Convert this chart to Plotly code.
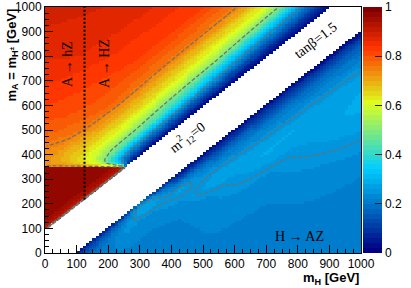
import numpy as np
import plotly.graph_objects as go

# ---------------- data ----------------
m_Z = 91.19          # kinematic offset of the white band (GeV)
m_tt = 350           # A -> tt threshold: below it the upper region is ~1
m_h125 = 125         # dotted vertical line (GeV)
bin_width = 10
axis_max = 1000

# upper region (mA > mH + mZ, mA above the tt threshold): value vs (mA, d = mA - mH - mZ)
upper_mA_nodes = [355, 365, 380, 420, 500, 600, 800, 1000]
upper_d_nodes = [0, 20, 50, 100, 150, 200, 300, 400, 600, 950]
upper_values = [
    [0.00, 0.45, 0.57, 0.65, 0.70, 0.72, 0.74, 0.74, 0.74, 0.74],
    [0.00, 0.22, 0.40, 0.57, 0.65, 0.70, 0.74, 0.74, 0.74, 0.74],
    [0.00, 0.10, 0.26, 0.50, 0.61, 0.67, 0.74, 0.745, 0.745, 0.745],
    [0.00, 0.08, 0.21, 0.46, 0.57, 0.66, 0.735, 0.76, 0.76, 0.76],
    [0.00, 0.07, 0.19, 0.44, 0.57, 0.66, 0.765, 0.79, 0.79, 0.79],
    [0.00, 0.06, 0.16, 0.40, 0.54, 0.65, 0.78, 0.81, 0.83, 0.83],
    [0.00, 0.05, 0.13, 0.30, 0.50, 0.61, 0.76, 0.82, 0.86, 0.87],
    [0.00, 0.05, 0.12, 0.25, 0.44, 0.59, 0.75, 0.82, 0.87, 0.90],
]

# upper region below the tt threshold: value vs d
below_tt_d_nodes = [0, 15, 40, 300]
below_tt_values = [0.88, 0.93, 0.96, 0.97]

# lower region (mH > mA + mZ): value vs (mH, d2 = mH - mA - mZ)
lower_mH_nodes = [100, 200, 260, 300, 335, 430, 550, 700, 1000]
lower_d_nodes = [0, 10, 25, 50, 75, 100, 150, 200, 300, 450, 600, 910]
lower_values = [
    [0.00, 0.06, 0.12, 0.16, 0.18, 0.19, 0.19, 0.19, 0.19, 0.19, 0.19, 0.19],
    [0.00, 0.08, 0.14, 0.19, 0.21, 0.21, 0.21, 0.21, 0.21, 0.21, 0.21, 0.21],
    [0.00, 0.12, 0.20, 0.24, 0.245, 0.24, 0.22, 0.21, 0.21, 0.21, 0.21, 0.21],
    [0.00, 0.25, 0.27, 0.265, 0.24, 0.23, 0.22, 0.21, 0.21, 0.21, 0.21, 0.21],
    [0.00, 0.14, 0.26, 0.28, 0.245, 0.23, 0.22, 0.21, 0.21, 0.21, 0.21, 0.21],
    [0.00, 0.05, 0.10, 0.21, 0.265, 0.255, 0.23, 0.22, 0.21, 0.21, 0.21, 0.21],
    [0.00, 0.04, 0.08, 0.15, 0.20, 0.24, 0.28, 0.245, 0.23, 0.21, 0.21, 0.21],
    [0.00, 0.04, 0.08, 0.14, 0.19, 0.22, 0.26, 0.285, 0.235, 0.215, 0.205, 0.205],
    [0.00, 0.03, 0.07, 0.13, 0.17, 0.20, 0.24, 0.27, 0.29, 0.25, 0.22, 0.20],
]

contour_levels = [0.25, 0.50, 0.75]
x_ticks = list(range(0, 1001, 100))
y_ticks = list(range(0, 1001, 100))
cb_ticks = [0, 0.2, 0.4, 0.6, 0.8, 1.0]
cb_ticktext = ["0", "0.2", "0.4", "0.6", "0.8", "1"]

# ROOT-style rainbow palette
palette_stops = [0.00, 0.34, 0.61, 0.84, 1.00]
palette_red = [0.00, 0.00, 0.87, 1.00, 0.51]
palette_green = [0.00, 0.81, 1.00, 0.20, 0.00]
palette_blue = [0.51, 1.00, 0.12, 0.00, 0.00]
n_colors = 50

# ---------------- build the binned map ----------------
def lookup(row_nodes, col_nodes, values, r, c):
    vals = np.asarray(values, dtype=float)
    per_row = [np.interp(c, col_nodes, vals[i]) for i in range(len(row_nodes))]
    return float(np.interp(r, row_nodes, per_row))

centers = np.arange(bin_width / 2, axis_max, bin_width)
z = np.full((len(centers), len(centers)), np.nan)
for iy, ma in enumerate(centers):
    for ix, mh in enumerate(centers):
        if ma > mh + m_Z:
            d = ma - mh - m_Z
            if ma < m_tt:
                z[iy, ix] = np.interp(d, below_tt_d_nodes, below_tt_values)
            else:
                z[iy, ix] = lookup(upper_mA_nodes, upper_d_nodes, upper_values, ma, d)
        elif mh > ma + m_Z:
            d2 = mh - ma - m_Z
            z[iy, ix] = lookup(lower_mH_nodes, lower_d_nodes, lower_values, mh, d2)
z_lines = np.nan_to_num(z, nan=0.0)

def pal(t):
    r = np.interp(t, palette_stops, palette_red)
    g = np.interp(t, palette_stops, palette_green)
    b = np.interp(t, palette_stops, palette_blue)
    return "rgb(%d,%d,%d)" % (round(r * 255), round(g * 255), round(b * 255))

colorscale = []
for i in range(n_colors):
    c = pal(i / (n_colors - 1))
    colorscale.append([i / n_colors, c])
    colorscale.append([(i + 1) / n_colors, c])

# ---------------- figure ----------------
W, H = 411, 288
ml, mr, mt, mb = 45, 50, 7, 35
plot_w = W - ml - mr
plot_h = H - mt - mb
cb_x0 = (363 - ml) / plot_w
cb_thick = 19
cb_x1 = cb_x0 + cb_thick / plot_w

fig = go.Figure()
fig.add_trace(go.Heatmap(
    x=centers, y=centers, z=z, zmin=0, zmax=1, colorscale=colorscale,
    hoverinfo="skip",
    colorbar=dict(x=cb_x0, xanchor="left", xpad=0, y=0.5, yanchor="middle", ypad=0,
                  len=1, lenmode="fraction", thickness=cb_thick, outlinewidth=0,
                  tickvals=cb_ticks, ticktext=cb_ticktext, ticks="inside", ticklen=7,
                  tickcolor="#222", tickwidth=1,
                  tickfont=dict(family="Liberation Sans, Arial", size=12, color="black")),
))
fig.add_trace(go.Contour(
    x=centers, y=centers, z=z_lines, showscale=False, hoverinfo="skip",
    contours=dict(start=contour_levels[0], end=contour_levels[-1],
                  size=contour_levels[1] - contour_levels[0], coloring="none"),
    line=dict(color="#6e6e6e", width=1.2, dash="4px,2px", smoothing=0.6),
))
fig.add_trace(go.Scatter(
    x=[m_h125, m_h125], y=[m_h125 + m_Z, axis_max], mode="lines",
    line=dict(color="black", width=2, dash="2px,2px"), hoverinfo="skip", showlegend=False,
))

for lv in contour_levels:
    fig.add_shape(type="line", xref="paper", yref="y", x0=cb_x0, x1=cb_x1,
                  y0=lv * axis_max, y1=lv * axis_max,
                  line=dict(color="#6e6e6e", width=1, dash="2px,2px"))

axis_common = dict(range=[0, axis_max], showgrid=False, zeroline=False, showline=True,
                   linecolor="black", linewidth=1, mirror=True, ticks="inside",
                   ticklen=8, tickwidth=1, tickcolor="black", automargin=False,
                   tickfont=dict(family="Liberation Sans, Arial", size=12, color="black"),
                   minor=dict(dtick=25, ticklen=4, tickcolor="black", ticks="inside"))
fig.update_xaxes(tickvals=x_ticks, **axis_common)
fig.update_yaxes(tickvals=y_ticks, **axis_common)

serif = dict(family="Liberation Serif, Times New Roman", size=14, color="black")
bold = dict(family="Liberation Sans, Arial", size=13, color="black")
ann = [
    dict(x=71, y=770, text="A → hZ", textangle=-90, font=serif),
    dict(x=188, y=770, text="A → HZ", textangle=-90, font=serif),
    dict(x=451, y=472, text="m<sup>2</sup><sub>12</sub>=0", textangle=-37.8, font=serif),
    dict(x=856, y=863, text="tanβ=1.5", textangle=-37.8, font=serif),
    dict(x=805, y=69, text="H → AZ", textangle=0, font=serif),
]
for a in ann:
    fig.add_annotation(xref="x", yref="y", showarrow=False, **a)
fig.add_annotation(xref="paper", yref="paper", x=1.0, y=(H - mb - 278.5) / plot_h,
                   xanchor="right", yanchor="middle", showarrow=False,
                   text="<b>m<sub>H</sub> [GeV]</b>", font=bold)
fig.add_annotation(xref="paper", yref="paper", x=(12 - ml) / plot_w, y=1.0,
                   xanchor="center", yanchor="top", showarrow=False, textangle=-90,
                   text="<b>m<sub>A</sub> = m<sub>H<sup>±</sup></sub> [GeV]</b>", font=bold)

fig.update_layout(width=W, height=H, margin=dict(l=ml, r=mr, t=mt, b=mb, autoexpand=False),
                  paper_bgcolor="white", plot_bgcolor="white", showlegend=False,
                  font=dict(family="Liberation Sans, Arial", color="black"))
fig.write_html("out.html", config={"displayModeBar": False},
               post_script="document.body.style.margin='0';document.body.style.overflow='hidden';")
